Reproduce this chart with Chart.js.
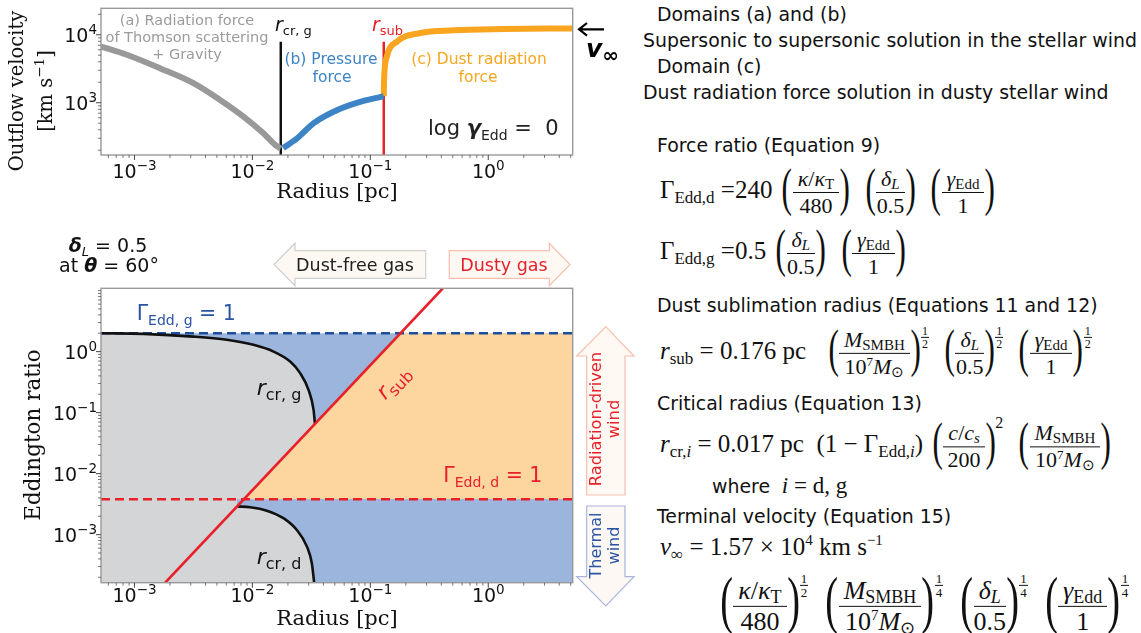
<!DOCTYPE html>
<html><head><meta charset="utf-8">
<script src="https://cdn.jsdelivr.net/npm/chart.js@4.4.0/dist/chart.umd.min.js"></script>
<style>
html,body{margin:0;padding:0;background:#fff;width:1141px;height:633px;overflow:hidden;position:relative;}
#w1{position:absolute;left:0;top:0;width:640px;height:205px;}
#w2{position:absolute;left:0;top:210px;width:640px;height:423px;}
.rt{position:absolute;font-family:"DejaVu Sans";font-size:18.9px;color:#111;white-space:nowrap;transform:translateY(-50%);line-height:1;}
.eq{position:absolute;transform:translateY(-50%);font-family:"Liberation Serif",serif;font-size:25px;color:#111;white-space:nowrap;line-height:1;}
.eq sub{font-size:17px;vertical-align:-5px;line-height:0;}
.eq sup{font-size:15px;vertical-align:10px;line-height:0;}
.fr{display:inline-flex;flex-direction:column;align-items:center;vertical-align:middle;font-size:22px;line-height:24px;margin:0 1px;}
.fr>span:first-child{border-bottom:1.3px solid #111;padding:0 5px 1px;}
.fr>span:last-child{padding-top:1px;}
.fr sub{font-size:15px;vertical-align:-3px;}
.fr sup{font-size:13px;vertical-align:8px;}
.pl,.pr{display:inline-block;vertical-align:middle;font-size:52px;line-height:52px;transform:scaleX(0.6);position:relative;top:-4px;margin:0 -4px;}
.pl{margin-left:6px;}
.ex{display:inline-flex;flex-direction:column;align-items:center;vertical-align:24px;font-size:12px;line-height:12px;margin-right:6px;margin-left:1px;}
.ex>span:first-child{border-bottom:0.8px solid #111;padding:0 1px;}
.sq{font-size:16px;vertical-align:24px;margin-right:6px;}
.big .fr{font-size:26px;line-height:28px;}
.big .fr>span:first-child{padding:0 5px 1px;}
.big .fr sub{font-size:18px;vertical-align:-4px;}
.big .fr sup{font-size:15px;vertical-align:10px;}
.big .pl,.big .pr{font-size:64px;line-height:64px;top:-6px;margin:0 -5px;}
.big .pl{margin-left:9px;}
.big .ex{vertical-align:29px;font-size:13px;line-height:13px;margin-right:4px;}
</style></head><body>
<div id="w1"><canvas id="c1" width="640" height="205"></canvas></div>
<div id="w2"><canvas id="c2" width="640" height="423"></canvas></div>

<div class="rt" style="left:657px;top:14px">Domains (a) and (b)</div>
<div class="rt" style="left:643px;top:40px">Supersonic to supersonic solution in the stellar wind</div>
<div class="rt" style="left:657px;top:66px">Domain (c)</div>
<div class="rt" style="left:643px;top:92px">Dust radiation force solution in dusty stellar wind</div>

<div class="rt" style="left:657px;top:145px">Force ratio (Equation 9)</div>
<div class="eq" style="left:660px;top:192px">Γ<sub>Edd,d</sub> =240<span class="pl">(</span><span class="fr"><span><i>κ</i>/<i>κ</i><sub>T</sub></span><span>480</span></span><span class="pr">)</span> <span class="pl">(</span><span class="fr"><span><i>δ</i><sub><i>L</i></sub></span><span>0.5</span></span><span class="pr">)</span> <span class="pl">(</span><span class="fr"><span><i>γ</i><sub>Edd</sub></span><span>1</span></span><span class="pr">)</span></div>
<div class="eq" style="left:660px;top:253px">Γ<sub>Edd,g</sub> =0.5<span class="pl">(</span><span class="fr"><span><i>δ</i><sub><i>L</i></sub></span><span>0.5</span></span><span class="pr">)</span> <span class="pl">(</span><span class="fr"><span><i>γ</i><sub>Edd</sub></span><span>1</span></span><span class="pr">)</span></div>

<div class="rt" style="left:657px;top:305px">Dust sublimation radius (Equations 11 and 12)</div>
<div class="eq" style="left:660px;top:352px"><i>r</i><sub>sub</sub> = 0.176 pc&nbsp; <span class="pl">(</span><span class="fr"><span><i>M</i><sub>SMBH</sub></span><span>10<sup>7</sup><i>M</i><sub>⊙</sub></span></span><span class="pr">)</span><span class="ex"><span>1</span><span>2</span></span><span class="pl">(</span><span class="fr"><span><i>δ</i><sub><i>L</i></sub></span><span>0.5</span></span><span class="pr">)</span><span class="ex"><span>1</span><span>2</span></span><span class="pl">(</span><span class="fr"><span><i>γ</i><sub>Edd</sub></span><span>1</span></span><span class="pr">)</span><span class="ex"><span>1</span><span>2</span></span></div>

<div class="rt" style="left:657px;top:403px">Critical radius (Equation 13)</div>
<div class="eq" style="left:660px;top:444px"><i>r</i><sub>cr,<i>i</i></sub> = 0.017 pc&nbsp; (1 − Γ<sub>Edd,<i>i</i></sub>)<span class="pl">(</span><span class="fr"><span><i>c</i>/<i>c</i><sub><i>s</i></sub></span><span>200</span></span><span class="pr">)</span><span class="sq">2</span><span class="pl">(</span><span class="fr"><span><i>M</i><sub>SMBH</sub></span><span>10<sup>7</sup><i>M</i><sub>⊙</sub></span></span><span class="pr">)</span></div>
<div class="rt" style="left:712px;top:485px">where <span style="font-family:'Liberation Serif';font-size:23px">&nbsp;<i>i</i> = d, g</span></div>

<div class="rt" style="left:657px;top:516px">Terminal velocity (Equation 15)</div>
<div class="eq" style="left:660px;top:546px"><i>v</i><sub>∞</sub> = 1.57 × 10<sup>4</sup> km s<sup>−1</sup></div>
<div class="eq big" style="left:707px;top:605px"><span class="pl">(</span><span class="fr"><span><i>κ</i>/<i>κ</i><sub>T</sub></span><span>480</span></span><span class="pr">)</span><span class="ex"><span>1</span><span>2</span></span><span class="pl">(</span><span class="fr"><span><i>M</i><sub>SMBH</sub></span><span>10<sup>7</sup><i>M</i><sub>⊙</sub></span></span><span class="pr">)</span><span class="ex"><span>1</span><span>4</span></span><span class="pl">(</span><span class="fr"><span><i>δ</i><sub><i>L</i></sub></span><span>0.5</span></span><span class="pr">)</span><span class="ex"><span>1</span><span>4</span></span><span class="pl">(</span><span class="fr"><span><i>γ</i><sub>Edd</sub></span><span>1</span></span><span class="pr">)</span><span class="ex"><span>1</span><span>4</span></span></div>

<script>
// ---------- axes ----------
const xMin = 5.2e-4, xMax = 5.2;
const xMajor = [1e-3, 1e-2, 1e-1, 1];
const xMajorExp = ['−3', '−2', '−1', '0'];      // tick labels 10^exp
const vMin = 170, vMax = 24500;
const vMajor = [1e3, 1e4];
const vMajorExp = ['3', '4'];
const gMin = 1.63e-4, gMax = 10.9;
const gMajor = [1e-3, 1e-2, 1e-1, 1];
const gMajorExp = ['−3', '−2', '−1', '0'];

// ---------- top panel: outflow velocity (km/s) vs radius (pc) ----------
const gasR = [5.2e-4, 8.6e-4, 0.00164, 0.00316, 0.00532, 0.0084, 0.0124, 0.0156, 0.0174];
const gasV = [6700, 5070, 3220, 1940, 1100, 625, 355, 240, 212];
const presR = [0.0182, 0.0240, 0.0331, 0.0525, 0.0832, 0.126, 0.1295];
const presV = [215, 300, 500, 780, 1035, 1230, 1245];
const dustR = [0.1300, 0.1306, 0.1318, 0.138, 0.1675, 0.265, 0.508, 1.35, 5.2];
const dustV = [1250, 2000, 2900, 4800, 7900, 10600, 11600, 12100, 12400];
const rcrLineR = [0.0174, 0.0174], rcrLineV = [7900, 170];
const rsubLineR = [0.130, 0.130], rsubLineV = [7900, 170];

// ---------- bottom panel: Eddington ratio vs radius (pc) ----------
const gammaG = 2.0;      // Gamma_Edd,g = 1
const gammaD = 0.0038;   // Gamma_Edd,d = 1
const rsubR = [0.00182, 0.412], rsubG = [1.63e-4, 10.9];
const rcrgR = [5.2e-4, 0.00119, 0.00316, 0.00606, 0.0102, 0.0151, 0.0209, 0.0254, 0.0299, 0.0330, 0.0339];
const rcrgG = [2.0, 1.95, 1.76, 1.56, 1.29, 1.0, 0.686, 0.443, 0.236, 0.111, 0.0653];
const rcrdR = [0.0074, 0.00955, 0.01324, 0.01832, 0.0238, 0.0290, 0.0319, 0.0334];
const rcrdG = [0.0029, 0.00281, 0.00247, 0.00186, 0.00119, 0.000636, 0.00034, 0.000163];
const dustyR = [0.00846, 0.180, 5.2], dustyG = [0.0038, 2.0, 2.0];
const thermR = [0.0330, 5.2], thermG = [1.63e-4, 1.63e-4];

const RED = '#e8202a', BLUE_T = '#2a55a5', FILL_B = '#9cb5dc', FILL_O = '#fdd59f', FILL_G = '#d4d5d7';

const pts = (xs, ys) => xs.map((x, i) => ({x, y: ys[i]}));
const DJ = '"DejaVu Sans"';
const f = (s, st) => (st ? st + ' ' : '') + s + 'px ' + DJ;
const fs = (s, st) => (st ? st + ' ' : '') + s + 'px "DejaVu Serif"';

function isMaj(v, majors) { return majors.some(m => Math.abs(Math.log10(v / m)) < 1e-6); }
function logAxis(min, max, majors, horiz, size) {
  return {
    type: 'logarithmic', min, max,
    afterBuildTicks: ax => {
      const t = [];
      for (let e = Math.floor(Math.log10(min)); e <= Math.ceil(Math.log10(max)); e++)
        for (let k = 1; k < 10; k++) { const v = k * Math.pow(10, e); if (v >= min && v <= max) t.push(v); }
      ax.ticks = t.map(v => ({value: v, major: isMaj(v, majors)}));
    },
    afterFit: s => {
      if (horiz) { s.height = size; s.paddingLeft = 0; s.paddingRight = 0; }
      else { s.width = size; s.paddingTop = 0; s.paddingBottom = 0; }
    },
    grid: {display: false, drawTicks: false},
    border: {display: false},
    ticks: {display: false},
    title: {display: false}
  };
}

function rich(ctx, x, y, parts, align, rot) {
  ctx.save();
  ctx.translate(x, y);
  if (rot) ctx.rotate(rot);
  let w = 0;
  for (const p of parts) { ctx.font = p[1]; p.w = ctx.measureText(p[0]).width; w += p.w; }
  let cx = align === 'center' ? -w / 2 : align === 'right' ? -w : 0;
  ctx.textBaseline = 'alphabetic'; ctx.textAlign = 'left';
  for (const p of parts) { ctx.font = p[1]; ctx.fillStyle = p[3]; ctx.fillText(p[0], cx, p[2]); cx += p.w; }
  ctx.restore();
}
function poly(ctx, P, fill, stroke) {
  ctx.save(); ctx.beginPath(); ctx.moveTo(P[0][0], P[0][1]);
  for (let i = 1; i < P.length; i++) ctx.lineTo(P[i][0], P[i][1]);
  ctx.closePath(); ctx.fillStyle = fill; ctx.fill(); ctx.strokeStyle = stroke; ctx.lineWidth = 1.2; ctx.stroke(); ctx.restore();
}

function makeFrame(xExp, yMaj, yExp, xLabBase) {
  return {
    id: 'frame',
    afterDatasetsDraw(ch) {
      const c = ch.ctx, a = ch.chartArea;
      c.save();
      c.strokeStyle = '#999'; c.lineWidth = 1.4;
      c.strokeRect(a.left, a.top, a.right - a.left, a.bottom - a.top);
      c.strokeStyle = '#555';
      const xs = ch.scales.x, ys = ch.scales.y;
      xs.ticks.forEach(t => { const p = xs.getPixelForValue(t.value); const L = t.major ? 5 : 3; c.lineWidth = t.major ? 1.1 : 0.8; c.beginPath(); c.moveTo(p, a.bottom); c.lineTo(p, a.bottom + L); c.stroke(); });
      ys.ticks.forEach(t => { const p = ys.getPixelForValue(t.value); const L = t.major ? 5 : 3; c.lineWidth = t.major ? 1.1 : 0.8; c.beginPath(); c.moveTo(a.left, p); c.lineTo(a.left - L, p); c.stroke(); });
      c.restore();
      xMajor.forEach((m, i) => rich(c, xs.getPixelForValue(m), xLabBase, [['10', f(19), 0, '#111'], [xExp[i], f(13.5), -8, '#111']], 'center'));
      yMaj.forEach((m, i) => rich(c, 97, ys.getPixelForValue(m) + 7, [['10', f(19), 0, '#111'], [yExp[i], f(13.5), -8, '#111']], 'right'));
    }
  };
}

const annot1 = {
  id: 'annot1',
  afterDraw(ch) {
    const c = ch.ctx, gr = '#9b9b9b', bl = '#3d84c6', or = '#f9a51f', k = '#111';
    rich(c, 22.5, 91, [['Outflow velocity', fs(19.5), 0, k]], 'center', -Math.PI / 2);
    rich(c, 51.5, 91, [['[km s', fs(19.5), 0, k], ['−1', fs(13.5), -8, k], [']', fs(19.5), 0, k]], 'center', -Math.PI / 2);
    rich(c, 337, 198, [['Radius [pc]', fs(21), 0, k]], 'center');
    rich(c, 187, 25, [['(a) Radiation force', f(14.5), 0, gr]], 'center');
    rich(c, 187, 42, [['of Thomson scattering', f(14.5), 0, gr]], 'center');
    rich(c, 187, 59, [['+ Gravity', f(14.5), 0, gr]], 'center');
    rich(c, 275, 31, [['r', f(19, 'italic'), 0, k], ['cr, g', f(13), 4, k]]);
    rich(c, 372, 31, [['r', f(19, 'italic'), 0, RED], ['sub', f(13), 4, RED]]);
    rich(c, 331, 64, [['(b) Pressure', f(15.5), 0, bl]], 'center');
    rich(c, 332, 82, [['force', f(15.5), 0, bl]], 'center');
    rich(c, 479, 64, [['(c) Dust radiation', f(15.5), 0, or]], 'center');
    rich(c, 478, 82, [['force', f(15.5), 0, or]], 'center');
    rich(c, 428, 135, [['log ', f(21), 0, '#222'], ['γ', f(21, 'bold italic'), 0, '#222'], ['Edd', f(14), 5, '#222'], [' =  0', f(21), 0, '#222']]);
    c.save(); c.strokeStyle = '#000'; c.lineWidth = 2.2;
    c.beginPath(); c.moveTo(604, 29.3); c.lineTo(579, 29.3);
    c.moveTo(587, 23); c.lineTo(579, 29.3); c.lineTo(587, 35.6); c.stroke(); c.restore();
    rich(c, 586, 57, [['v', f(25, 'bold italic'), 0, '#000'], ['∞', f(20, 'bold'), 5, '#000']]);
  }
};

const annot2 = {
  id: 'annot2',
  afterDraw(ch) {
    const c = ch.ctx, k = '#111';
    rich(c, 40, 225, [['Eddington ratio', fs(21.5), 0, k]], 'center', -Math.PI / 2);
    rich(c, 337, 415, [['Radius [pc]', fs(21), 0, k]], 'center');
    rich(c, 108, 41.5, [['δ', f(19, 'bold italic'), 0, k], ['L', f(13, 'italic'), 4, k], [' = 0.5', f(19), 0, k]], 'center');
    rich(c, 109, 61.5, [['at ', f(19), 0, k], ['θ', f(19, 'bold italic'), 0, k], [' = 60°', f(19), 0, k]], 'center');
    poly(c, [[274, 54.5], [295, 33.3], [295, 40.7], [425.7, 40.7], [425.7, 68.3], [295, 68.3], [295, 75.7]], '#fdf8f1', '#cfcfcf');
    poly(c, [[449.3, 40.7], [549.3, 40.7], [549.3, 33.3], [570, 54.5], [549.3, 75.7], [549.3, 68.3], [449.3, 68.3]], '#fff8f3', '#f6c0ae');
    rich(c, 355, 60.5, [['Dust-free gas', f(17.5), 0, '#222']], 'center');
    rich(c, 504, 60.5, [['Dusty gas', f(17.5), 0, RED]], 'center');
    rich(c, 136.7, 110, [['Γ', f(20.5), 0, BLUE_T], ['Edd, g', f(14), 5, BLUE_T], [' = 1', f(20.5), 0, BLUE_T]]);
    rich(c, 443.3, 272, [['Γ', f(20.5), 0, RED], ['Edd, d', f(14), 5, RED], [' = 1', f(20.5), 0, RED]]);
    rich(c, 256.7, 185, [['r', f(22, 'italic'), 0, k], ['cr, g', f(16), 5, k]]);
    rich(c, 256.7, 354.3, [['r', f(22, 'italic'), 0, k], ['cr, d', f(16), 5, k]]);
    c.save(); c.translate(393, 172); c.rotate(-0.815);
    rich(c, 0, 7, [['r', f(22, 'italic'), 0, RED], ['sub', f(16), 5, RED]], 'center');
    c.restore();
    poly(c, [[605.8, 116.7], [634, 146], [625, 146], [625, 285], [586.7, 285], [586.7, 146], [576.7, 146]], '#fff8f3', '#f6c0ae');
    poly(c, [[586.7, 296], [625, 296], [625, 366.7], [634, 366.7], [605.8, 396], [576.7, 366.7], [586.7, 366.7]], '#fdf8f3', '#aab4dd');
    rich(c, 601, 209, [['Radiation-driven', f(16.3), 0, RED]], 'center', -Math.PI / 2);
    rich(c, 619.3, 209, [['wind', f(16.3), 0, RED]], 'center', -Math.PI / 2);
    rich(c, 601, 335.5, [['Thermal', f(16), 0, BLUE_T]], 'center', -Math.PI / 2);
    rich(c, 619.3, 335.5, [['wind', f(16), 0, BLUE_T]], 'center', -Math.PI / 2);
  }
};

const common = {
  responsive: false, animation: false, devicePixelRatio: 1,
  plugins: {legend: {display: false}, tooltip: {enabled: false}},
  elements: {point: {radius: 0}}
};

new Chart(document.getElementById('c1'), {
  type: 'line',
  data: {datasets: [
    {data: pts(gasR, gasV), borderColor: '#999999', borderWidth: 6, cubicInterpolationMode: 'monotone', fill: false},
    {data: pts(presR, presV), borderColor: '#3d84c6', borderWidth: 6, cubicInterpolationMode: 'monotone', fill: false},
    {data: pts(dustR, dustV), borderColor: '#f9a51f', borderWidth: 6, cubicInterpolationMode: 'monotone', fill: false},
    {data: pts(rcrLineR, rcrLineV), borderColor: '#111', borderWidth: 2.5, fill: false},
    {data: pts(rsubLineR, rsubLineV), borderColor: RED, borderWidth: 2.5, fill: false}
  ]},
  options: Object.assign({}, common, {
    layout: {padding: {left: 0, top: 8.3, right: 67.3, bottom: 0}},
    scales: {x: logAxis(xMin, xMax, xMajor, true, 50), y: logAxis(vMin, vMax, vMajor, false, 101)}
  }),
  plugins: [makeFrame(xMajorExp, vMajor, vMajorExp, 178), annot1]
});

new Chart(document.getElementById('c2'), {
  type: 'line',
  data: {datasets: [
    {data: pts(rsubR, rsubG), borderColor: RED, borderWidth: 2.6, fill: false},
    {data: pts(rcrgR, rcrgG), borderColor: '#111', borderWidth: 2.6, cubicInterpolationMode: 'monotone', fill: false},
    {data: pts(rcrdR, rcrdG), borderColor: '#111', borderWidth: 2.6, cubicInterpolationMode: 'monotone', fill: false},
    {data: pts([xMin, xMax], [gammaG, gammaG]), borderColor: '#1f4e9c', borderWidth: 2.5, borderDash: [9, 5], fill: false},
    {data: pts([xMin, xMax], [gammaD, gammaD]), borderColor: RED, borderWidth: 2.5, borderDash: [9, 5], fill: false},
    {data: pts(rcrdR, rcrdG), borderWidth: 0, borderColor: 'rgba(0,0,0,0)', backgroundColor: FILL_B, cubicInterpolationMode: 'monotone', fill: {value: gammaD}},
    {data: pts(thermR, thermG), borderWidth: 0, borderColor: 'rgba(0,0,0,0)', backgroundColor: FILL_B, fill: {value: gammaD}},
    {data: pts(dustyR, dustyG), borderWidth: 0, borderColor: 'rgba(0,0,0,0)', backgroundColor: FILL_O, fill: {value: gammaD}},
    {data: pts(rcrgR, rcrgG), borderWidth: 0, borderColor: 'rgba(0,0,0,0)', backgroundColor: FILL_G, cubicInterpolationMode: 'monotone', fill: 'start'},
    {data: pts([xMin, xMax], [gammaG, gammaG]), borderWidth: 0, borderColor: 'rgba(0,0,0,0)', backgroundColor: FILL_B, fill: 'start'}
  ]},
  options: Object.assign({}, common, {
    layout: {padding: {left: 0, top: 78.3, right: 67.3, bottom: 0}},
    scales: {x: logAxis(xMin, xMax, xMajor, true, 50.3), y: logAxis(gMin, gMax, gMajor, false, 101)}
  }),
  plugins: [makeFrame(xMajorExp, gMajor, gMajorExp, 392), annot2]
});
</script>
</body></html>
